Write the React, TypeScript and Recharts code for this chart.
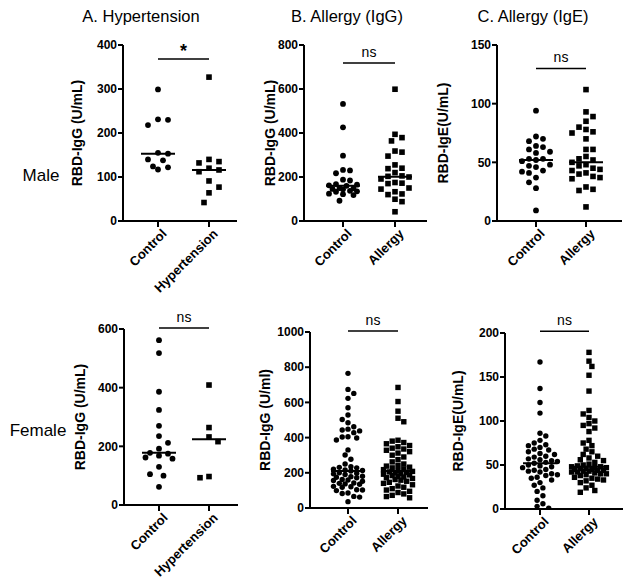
import React from 'react';
import { ScatterChart, Scatter, XAxis, YAxis, ReferenceLine } from 'recharts';

const FONT = '"Liberation Sans", Arial, Helvetica, sans-serif';

// ---------- data ----------
const hyperNames = ['Control', 'Hypertension'];
const allergyNames = ['Control', 'Allergy'];

const maleHyperControl = [299, 231, 230, 218, 155, 153, 140, 138, 124, 122, 117];
const maleHyperCase = [327, 140, 135, 132, 120, 116, 112, 91, 77, 64, 42];

const maleIgGControl = [532, 426, 297, 232, 230, 217, 188, 184, 168, 165, 162, 160, 150, 148, 146, 144, 137, 135, 133, 124, 122, 118, 92];
const maleIgGAllergy = [599, 394, 379, 364, 318, 313, 295, 255, 240, 238, 220, 205, 203, 200, 191, 175, 172, 170, 150, 145, 133, 123, 120, 99, 88, 42];

const maleIgEControl = [94, 72, 70, 68, 64, 63, 61, 59, 58, 53, 53, 52, 51, 48, 47, 46, 43, 42, 41, 37, 33, 28, 9];
const maleIgEAllergy = [112, 93, 89, 85, 80, 78, 76, 75, 70, 61, 61, 55, 53, 52, 50, 48, 47, 45, 44, 43, 41, 40, 38, 37, 36, 29, 27, 26, 12];

const femaleHyperControl = [562, 518, 386, 324, 270, 235, 212, 192, 178, 175, 168, 162, 158, 130, 105, 100, 62];
const femaleHyperCase = [409, 264, 232, 216, 97, 93];

const femaleIgGControl = [765, 674, 651, 623, 570, 528, 503, 484, 462, 448, 443, 438, 428, 405, 403, 398, 386, 330, 301, 277, 250, 235, 231, 228, 220, 216, 213, 210, 200, 197, 194, 190, 180, 178, 175, 172, 162, 159, 156, 152, 142, 140, 137, 135, 123, 121, 118, 104, 102, 99, 85, 82, 66, 62, 36];
const femaleIgGAllergy = [685, 605, 550, 510, 490, 385, 380, 372, 365, 355, 348, 340, 335, 328, 320, 312, 300, 290, 275, 262, 250, 242, 238, 232, 228, 222, 218, 212, 208, 205, 202, 200, 196, 192, 188, 184, 180, 176, 172, 168, 162, 158, 152, 146, 140, 132, 125, 118, 110, 102, 95, 88, 80, 72, 65, 58];

const femaleIgEControl = [167, 137, 121, 109, 86, 83, 78, 75, 73, 72, 70, 68, 67, 65, 63, 62, 60, 59, 57, 56, 55, 54, 53, 52, 50, 49, 48, 47, 45, 44, 43, 42, 40, 39, 38, 36, 35, 33, 30, 27, 24, 20, 15, 10, 6, 3, 1];
const femaleIgEAllergy = [178, 168, 162, 152, 134, 112, 108, 104, 100, 97, 95, 92, 88, 78, 75, 72, 68, 65, 62, 60, 58, 56, 55, 53, 51, 50, 49, 48, 48, 47, 47, 46, 46, 45, 45, 44, 44, 43, 43, 42, 42, 41, 40, 40, 39, 38, 36, 35, 34, 33, 32, 30, 27, 24, 21, 19];

const titles = ['A. Hypertension', 'B. Allergy (IgG)', 'C. Allergy (IgE)'];
const rowLabels = ['Male', 'Female'];

// ---------- helpers ----------
function median(values: number[]) {
  const s = [...values].sort((a, b) => a - b);
  const n = s.length;
  return n % 2 ? s[(n - 1) / 2] : (s[n / 2 - 1] + s[n / 2]) / 2;
}

// beeswarm: spreads points horizontally (pixel space) within +/- maxW, overlapping when crowded
function beeswarm(values: number[], group: number, yMax: number, plotH: number, ppu: number, d: number, maxW: number) {
  const pts = values.map((v) => ({ v, py: (v / yMax) * plotH })).sort((a, b) => b.v - a.v);
  const placed: { px: number; py: number }[] = [];
  const out: { x: number; y: number }[] = [];
  const step = d / 2;
  let flip = 1;
  const minDist = (px: number, py: number) =>
    placed.reduce((m, q) => Math.min(m, Math.hypot(q.px - px, q.py - py)), Infinity);
  for (const p of pts) {
    const cands: number[] = [0];
    for (let k = 1; k * step <= maxW + 0.01; k++) {
      cands.push(k * step * flip, -k * step * flip);
    }
    let chosen = NaN;
    for (const c of cands) {
      if (minDist(c, p.py) >= d - 0.01) { chosen = c; break; }
    }
    if (Number.isNaN(chosen)) {
      let best = -1;
      for (const c of cands) {
        const m = minDist(c, p.py);
        if (m > best + 0.01) { best = m; chosen = c; }
      }
    }
    if (chosen !== 0) flip = -flip;
    placed.push({ px: chosen, py: p.py });
    out.push({ x: group + chosen / ppu, y: p.v });
  }
  return out;
}

const circleShape = (r: number) => (props: any) => (
  <circle cx={props.cx} cy={props.cy} r={r} fill="#000" />
);
const squareShape = (s: number) => (props: any) => (
  <rect x={props.cx - s / 2} y={props.cy - s / 2} width={s} height={s} fill="#000" />
);

type PanelCfg = {
  axisX: number; c1X: number; c2X: number; rightX: number;
  topY: number; bottomY: number; yGap: number;
  yMax: number; yTicks: number[]; sigY: number; sigText: string;
  names: string[]; yLabel: string; d: number; maxW: number; r: number; sq: number;
  a: number[]; b: number[];
};

const panels: PanelCfg[] = [
  { axisX: 123, c1X: 158, c2X: 209, rightX: 237, topY: 45, bottomY: 221, yGap: 46, yMax: 400, yTicks: [0, 100, 200, 300, 400], sigY: 368, sigText: '*', names: hyperNames, yLabel: 'RBD-IgG (U/mL)', d: 10, maxW: 12, r: 2.9, sq: 5.6, a: maleHyperControl, b: maleHyperCase },
  { axisX: 304, c1X: 343, c2X: 395, rightX: 427, topY: 45, bottomY: 221, yGap: 34, yMax: 800, yTicks: [0, 200, 400, 600, 800], sigY: 718, sigText: 'ns', names: allergyNames, yLabel: 'RBD-IgG (U/mL)', d: 7, maxW: 14, r: 2.9, sq: 5.6, a: maleIgGControl, b: maleIgGAllergy },
  { axisX: 497, c1X: 536, c2X: 586, rightX: 622, topY: 45, bottomY: 221, yGap: 54, yMax: 150, yTicks: [0, 50, 100, 150], sigY: 130, sigText: 'ns', names: allergyNames, yLabel: 'RBD-IgE(U/mL)', d: 7, maxW: 14, r: 2.9, sq: 5.6, a: maleIgEControl, b: maleIgEAllergy },
  { axisX: 124, c1X: 159, c2X: 209, rightX: 238, topY: 329, bottomY: 505, yGap: 44, yMax: 600, yTicks: [0, 200, 400, 600], sigY: 603, sigText: 'ns', names: hyperNames, yLabel: 'RBD-IgG (U/mL)', d: 9, maxW: 15, r: 2.9, sq: 5.6, a: femaleHyperControl, b: femaleHyperCase },
  { axisX: 310, c1X: 348, c2X: 398, rightX: 428, topY: 332, bottomY: 508, yGap: 45, yMax: 1000, yTicks: [0, 200, 400, 600, 800, 1000], sigY: 1005, sigText: 'ns', names: allergyNames, yLabel: 'RBD-IgG (U/ml)', d: 5.8, maxW: 17, r: 2.7, sq: 5.4, a: femaleIgGControl, b: femaleIgGAllergy },
  { axisX: 505, c1X: 540, c2X: 589, rightX: 623, topY: 333, bottomY: 509, yGap: 47, yMax: 200, yTicks: [0, 50, 100, 150, 200], sigY: 202, sigText: 'ns', names: allergyNames, yLabel: 'RBD-IgE(U/mL)', d: 5.8, maxW: 18, r: 2.7, sq: 5.4, a: femaleIgEControl, b: femaleIgEAllergy },
];

function Panel({ cfg }: { cfg: PanelCfg }) {
  const plotH = cfg.bottomY - cfg.topY;
  const ppu = cfg.c2X - cfg.c1X;
  const lo = 1 - (cfg.c1X - cfg.axisX) / ppu;
  const hi = lo + (cfg.rightX - cfg.axisX) / ppu;
  const yW = cfg.yGap * 2;
  const marginTop = 26;
  const xH = 80;
  const width = yW + (cfg.rightX - cfg.axisX) + 2;
  const height = marginTop + plotH + xH;
  const dataA = beeswarm(cfg.a, 1, cfg.yMax, plotH, ppu, cfg.d, cfg.maxW);
  const dataB = beeswarm(cfg.b, 2, cfg.yMax, plotH, ppu, cfg.d, cfg.maxW);
  const medA = median(cfg.a);
  const medB = median(cfg.b);
  const hw = 17 / ppu;
  const names = cfg.names;
  const XTick = (props: any) => {
    const { x, y, payload } = props;
    return (
      <g transform={`translate(${x + 3},${y - 1}) rotate(-45)`}>
        <text x={0} y={0} dy="0.71em" textAnchor="end" fontFamily={FONT} fontWeight="bold" fontSize={13} fill="#000">
          {names[payload.value - 1]}
        </text>
      </g>
    );
  };
  return (
    <div style={{ position: 'absolute', left: cfg.axisX - yW, top: cfg.topY - marginTop }}>
      <ScatterChart width={width} height={height} margin={{ top: marginTop, right: 2, bottom: 0, left: 0 }}>
        <XAxis
          type="number"
          dataKey="x"
          domain={[lo, hi]}
          allowDataOverflow
          ticks={[1, 2]}
          interval={0}
          height={xH}
          tickSize={6}
          tickMargin={2}
          axisLine={{ stroke: '#000', strokeWidth: 2 }}
          tickLine={{ stroke: '#000', strokeWidth: 2 }}
          tick={XTick}
        />
        <YAxis
          type="number"
          dataKey="y"
          domain={[0, cfg.yMax]}
          allowDataOverflow
          ticks={cfg.yTicks}
          interval={0}
          width={yW}
          tickSize={5}
          tickMargin={1}
          axisLine={{ stroke: '#000', strokeWidth: 2 }}
          tickLine={{ stroke: '#000', strokeWidth: 2 }}
          tick={{ fill: '#000', fontFamily: FONT, fontWeight: 'bold', fontSize: 12 }}
          label={{ value: cfg.yLabel, angle: -90, position: 'center', fill: '#000', fontFamily: FONT, fontWeight: 'bold', fontSize: 14 }}
        />
        <Scatter data={dataA} shape={circleShape(cfg.r)} isAnimationActive={false} />
        <Scatter data={dataB} shape={squareShape(cfg.sq)} isAnimationActive={false} />
        <ReferenceLine segment={[{ x: 1 - hw, y: medA }, { x: 1 + hw, y: medA }]} stroke="#000" strokeWidth={2} ifOverflow="visible" />
        <ReferenceLine segment={[{ x: 2 - hw, y: medB }, { x: 2 + hw, y: medB }]} stroke="#000" strokeWidth={2} ifOverflow="visible" />
        <ReferenceLine
          segment={[{ x: 1, y: cfg.sigY }, { x: 2, y: cfg.sigY }]}
          stroke="#000"
          strokeWidth={1.5}
          ifOverflow="visible"
          label={{ value: cfg.sigText, position: 'top', offset: cfg.sigText === '*' ? 2 : 6, fill: '#000', fontFamily: FONT, fontSize: cfg.sigText === '*' ? 18 : 14, fontWeight: cfg.sigText === '*' ? 'bold' : 'normal' }}
        />
      </ScatterChart>
    </div>
  );
}

export default function App() {
  return (
    <div style={{ position: 'absolute', left: 0, top: 0, width: 625, height: 586, background: '#fff', overflow: 'hidden' }}>
      {panels.map((p, i) => (
        <Panel key={i} cfg={p} />
      ))}
      <svg width={625} height={586} style={{ position: 'absolute', left: 0, top: 0, pointerEvents: 'none' }}>
        <text x={141} y={22} textAnchor="middle" fontFamily={FONT} fontSize={16.5} fill="#000">{titles[0]}</text>
        <text x={347} y={22} textAnchor="middle" fontFamily={FONT} fontSize={16.5} fill="#000">{titles[1]}</text>
        <text x={533} y={22} textAnchor="middle" fontFamily={FONT} fontSize={16.5} fill="#000">{titles[2]}</text>
        <text x={41} y={181} textAnchor="middle" fontFamily={FONT} fontSize={17} fill="#000">{rowLabels[0]}</text>
        <text x={38} y={436} textAnchor="middle" fontFamily={FONT} fontSize={17} fill="#000">{rowLabels[1]}</text>
      </svg>
    </div>
  );
}
